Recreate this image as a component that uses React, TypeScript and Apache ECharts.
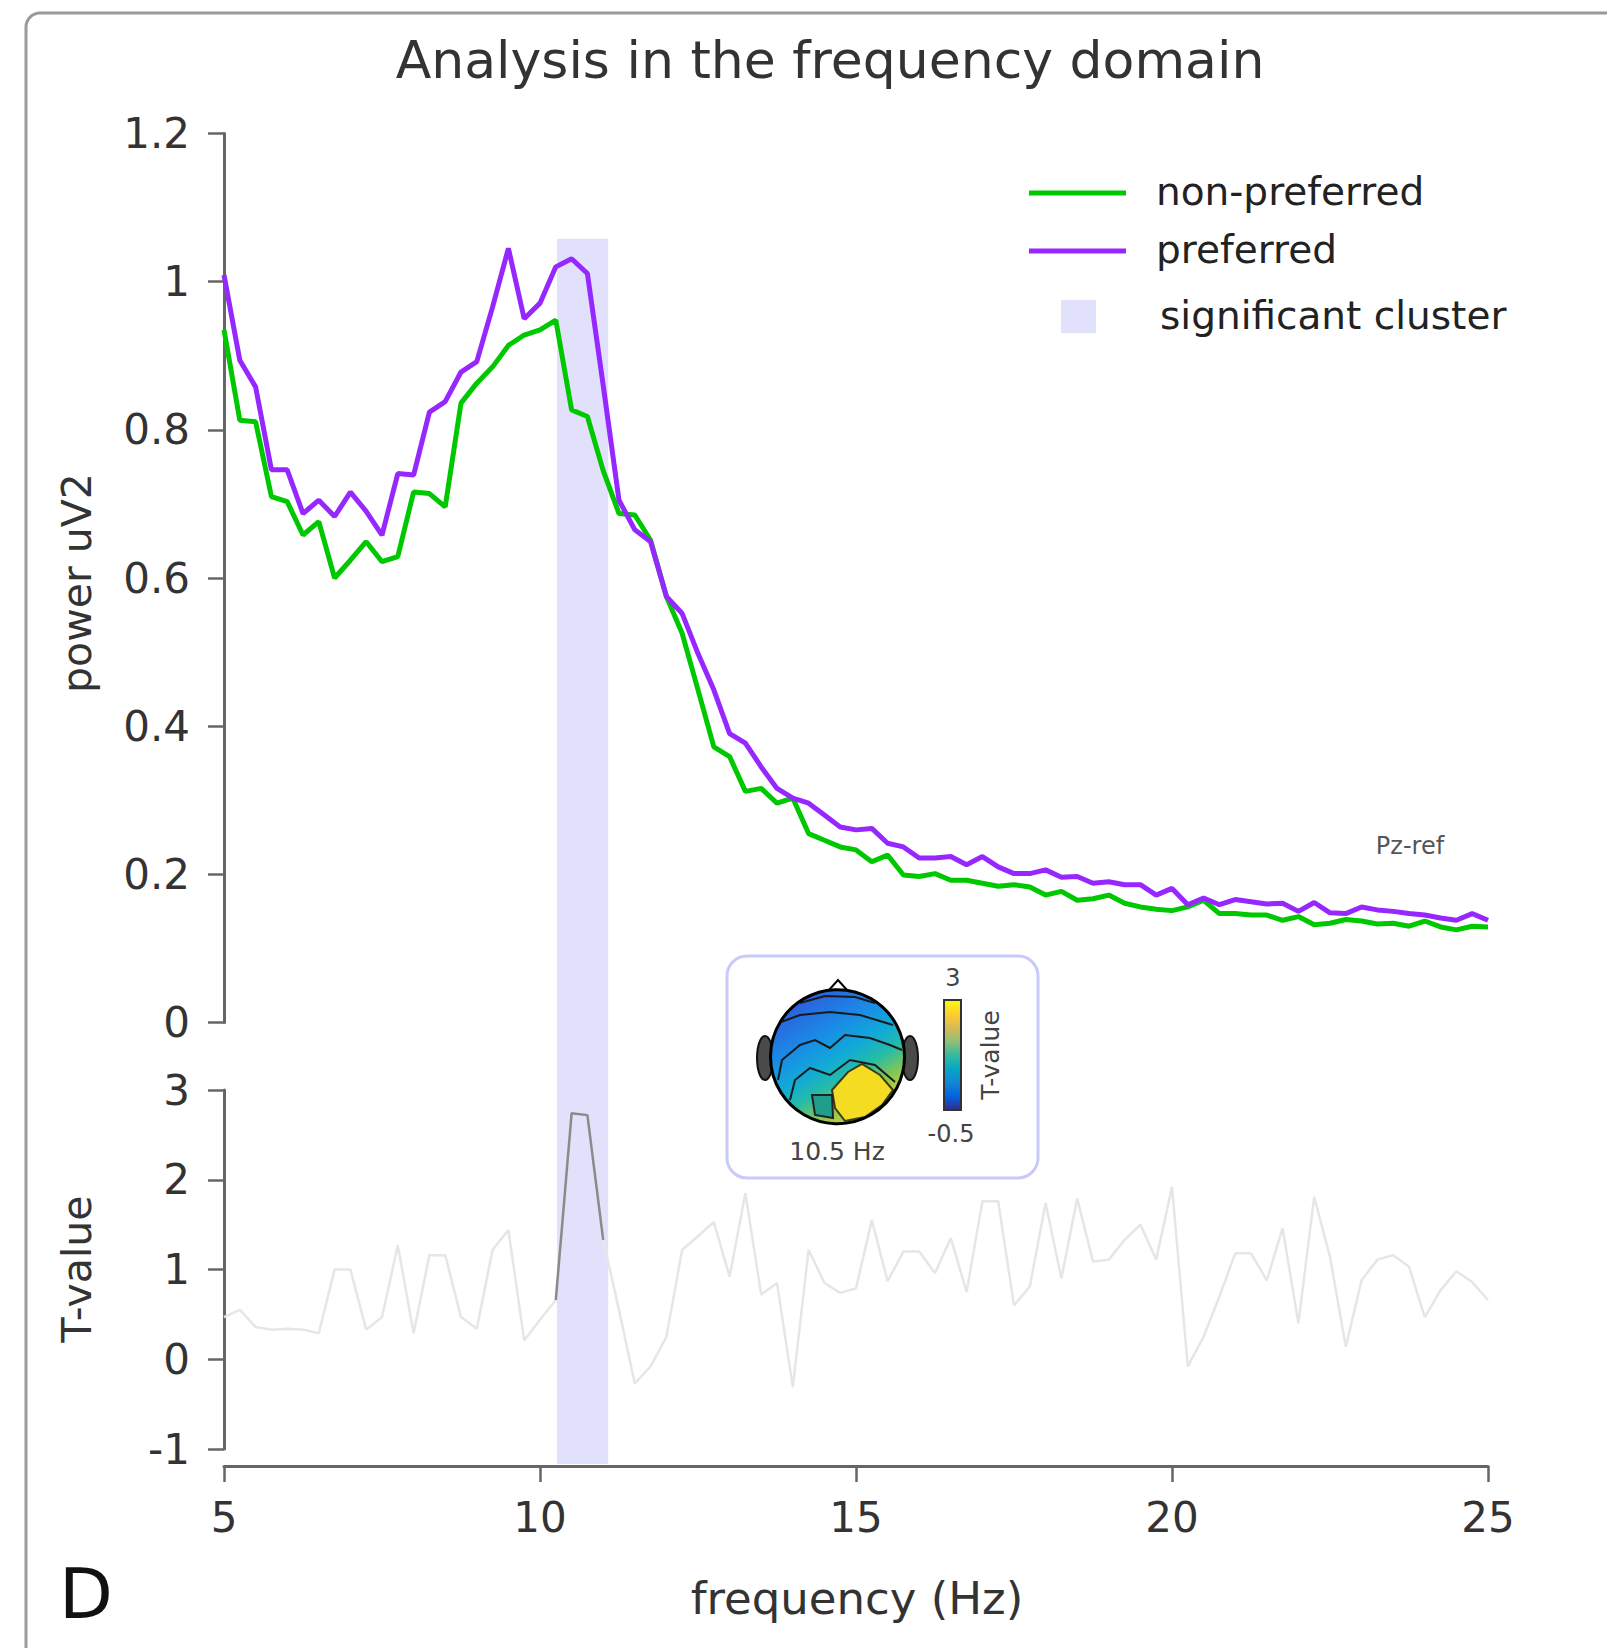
import React, { useEffect, useRef } from "react";
import * as echarts from "echarts";

// ---------- data ----------
const FREQ_START = 5;
const FREQ_STEP = 0.25;

const PREFERRED = [
  1.009, 0.894, 0.858, 0.746, 0.746, 0.687, 0.705, 0.683, 0.716, 0.69,
  0.658, 0.741, 0.739, 0.824, 0.838, 0.878, 0.892, 0.966, 1.045, 0.95,
  0.971, 1.02, 1.031, 1.011, 0.86, 0.705, 0.665, 0.649, 0.575, 0.552,
  0.498, 0.449, 0.39, 0.377, 0.345, 0.316, 0.303, 0.296, 0.28, 0.264,
  0.26, 0.262, 0.242, 0.237, 0.222, 0.222, 0.224, 0.213, 0.224, 0.21,
  0.201, 0.201, 0.206, 0.196, 0.197, 0.188, 0.19, 0.186, 0.186, 0.172,
  0.181, 0.159, 0.168, 0.159, 0.166, 0.163, 0.16, 0.161, 0.15, 0.162,
  0.148, 0.147, 0.156, 0.152, 0.15, 0.147, 0.145, 0.141, 0.138, 0.147,
  0.138,
];

const NON_PREFERRED = [
  0.935, 0.813, 0.811, 0.71, 0.703, 0.658, 0.676, 0.6, 0.624, 0.649,
  0.622, 0.629, 0.716, 0.714, 0.696, 0.836, 0.863, 0.885, 0.914, 0.928,
  0.935, 0.948, 0.827, 0.818, 0.745, 0.687, 0.685, 0.651, 0.575, 0.525,
  0.449, 0.372, 0.359, 0.312, 0.316, 0.296, 0.303, 0.255, 0.246, 0.237,
  0.233, 0.217, 0.226, 0.199, 0.197, 0.201, 0.192, 0.192, 0.188, 0.184,
  0.186, 0.183, 0.172, 0.177, 0.165, 0.167, 0.172, 0.161, 0.156, 0.153,
  0.151, 0.156, 0.165, 0.147, 0.147, 0.145, 0.145, 0.138, 0.143, 0.132,
  0.134, 0.139, 0.137, 0.133, 0.134, 0.13, 0.137, 0.129, 0.125, 0.13,
  0.129,
];

const T_VALUES = [
  0.47, 0.55, 0.36, 0.33, 0.34, 0.33, 0.29, 1.0, 1.0, 0.33,
  0.47, 1.27, 0.29, 1.16, 1.16, 0.47, 0.34, 1.22, 1.44, 0.21,
  0.44, 0.66, 2.74, 2.72, 1.33, 0.55, -0.27, -0.08, 0.25, 1.22,
  1.37, 1.53, 0.92, 1.85, 0.72, 0.85, -0.31, 1.22, 0.85, 0.74,
  0.79, 1.55, 0.87, 1.2, 1.2, 0.96, 1.35, 0.75, 1.76, 1.76,
  0.6, 0.81, 1.74, 0.9, 1.79, 1.09, 1.11, 1.33, 1.5, 1.11,
  1.92, -0.08, 0.25, 0.7, 1.18, 1.18, 0.88, 1.46, 0.4, 1.81,
  1.14, 0.14, 0.88, 1.11, 1.16, 1.03, 0.47, 0.77, 0.98, 0.86,
  0.66,
];

// significant cluster (Hz) and the dark part of the T-value curve
const CLUSTER = [10.27, 11.08];
const CLUSTER_TOP = 1.058;
const SIG_RANGE = [10.25, 11.0];

const POWER_AXIS = { min: 0, max: 1.2, interval: 0.2 };
const T_AXIS = { min: -1, max: 3, interval: 1 };
const FREQ_AXIS = { min: 5, max: 25, interval: 5 };

const COLORBAR_TICKS = ["3", "-0.5"];
const TOPO_FREQ = "10.5 Hz";

// ---------- styles ----------
const FONT = '"DejaVu Sans", "Liberation Sans", sans-serif';
const GREEN = "#00c800";
const PURPLE = "#9628ff";
const AXIS_COLOR = "#666666";
const LABEL_COLOR = "#333333";
const BAND_COLOR = "#e1e1fb";
const X_AXIS_OFFSET = 17;

const PARULA = [
  { offset: 0, color: "#f9fb0e" },
  { offset: 0.125, color: "#fcce2e" },
  { offset: 0.25, color: "#d9ba56" },
  { offset: 0.375, color: "#92bf73" },
  { offset: 0.5, color: "#38b99e" },
  { offset: 0.625, color: "#06a7c6" },
  { offset: 0.75, color: "#1485d4" },
  { offset: 0.875, color: "#0363e1" },
  { offset: 1, color: "#352a87" },
];

function pairs(values: number[]) {
  return values.map((v, i) => [FREQ_START + i * FREQ_STEP, v]);
}

function baseGraphics(): any[] {
  const txt = (id: string, x: number, y: number, text: string, size: number, extra: any = {}) => ({
    id,
    type: "text",
    x,
    y,
    rotation: extra.rotation || 0,
    z: 10,
    style: {
      text,
      fontSize: size,
      fontFamily: FONT,
      fill: extra.fill || LABEL_COLOR,
      align: extra.align || "left",
      verticalAlign: "middle",
      fontWeight: extra.weight || "normal",
    },
  });
  const head = { cx: 837.5, cy: 1056.7, r: 67 };
  const contour = (id: string, pts: number[][]) => ({
    id,
    type: "polyline",
    z: 12,
    shape: { points: pts },
    style: { stroke: "#1a1a1a", lineWidth: 2, fill: "none" },
  });
  return [
    {
      id: "frame",
      type: "rect",
      z: -5,
      shape: { x: 26, y: 13, width: 1700, height: 1700, r: 14 },
      style: { fill: "none", stroke: "#9a9a9a", lineWidth: 3 },
    },
    txt("title", 830, 60, "Analysis in the frequency domain", 52, { align: "center" }),
    txt("ylab1", 77, 583, "power uV2", 41, { align: "center", rotation: Math.PI / 2 }),
    txt("ylab2", 77, 1269, "T-value", 41, { align: "center", rotation: Math.PI / 2 }),
    txt("xlab", 857, 1598, "frequency (Hz)", 45, { align: "center" }),
    txt("panel", 86, 1594, "D", 70, { align: "center", fill: "#111" }),
    txt("pzref", 1410, 846, "Pz-ref", 24, { align: "center", fill: "#555" }),
    // legend
    { id: "lg1", type: "line", z: 10, shape: { x1: 1029, y1: 193, x2: 1126, y2: 193 }, style: { stroke: GREEN, lineWidth: 5 } },
    txt("lt1", 1156, 191, "non-preferred", 39, { fill: "#222" }),
    { id: "lg2", type: "line", z: 10, shape: { x1: 1029, y1: 251, x2: 1126, y2: 251 }, style: { stroke: PURPLE, lineWidth: 5 } },
    txt("lt2", 1156, 249, "preferred", 39, { fill: "#222" }),
    { id: "lg3", type: "rect", z: 10, shape: { x: 1061, y: 300, width: 35, height: 33 }, style: { fill: BAND_COLOR } },
    txt("lt3", 1160, 315, "significant cluster", 39, { fill: "#222" }),
    // topomap inset
    {
      id: "inset",
      type: "rect",
      z: 9,
      shape: { x: 727, y: 956, width: 311, height: 222, r: 20 },
      style: { fill: "#ffffff", stroke: "#c9c9fb", lineWidth: 3 },
    },
    { id: "earL", type: "ellipse", z: 10, shape: { cx: 765, cy: 1058, rx: 8, ry: 22 }, style: { fill: "#4a4a4a", stroke: "#111", lineWidth: 2 } },
    { id: "earR", type: "ellipse", z: 10, shape: { cx: 910, cy: 1058, rx: 8, ry: 22 }, style: { fill: "#4a4a4a", stroke: "#111", lineWidth: 2 } },
    {
      id: "headFill",
      type: "circle",
      z: 11,
      shape: head,
      style: {
        fill: {
          type: "linear",
          x: 0.15,
          y: 0,
          x2: 0.75,
          y2: 1,
          colorStops: [
            { offset: 0, color: "#3446c4" },
            { offset: 0.12, color: "#2a64de" },
            { offset: 0.35, color: "#1a8ce6" },
            { offset: 0.52, color: "#10aad8" },
            { offset: 0.66, color: "#26bca6" },
            { offset: 0.8, color: "#86c652" },
            { offset: 1, color: "#f0d825" },
          ],
        },
      },
    },
    {
      id: "yellow",
      type: "polygon",
      z: 12,
      shape: { points: [[832, 1090], [848, 1072], [862, 1064], [880, 1075], [893, 1090], [882, 1105], [865, 1117], [845, 1121], [835, 1108]] },
      style: { fill: "#f4dc22", stroke: "#3a3a1a", lineWidth: 2 },
    },
    {
      id: "teal",
      type: "polygon",
      z: 12,
      shape: { points: [[812, 1095], [832, 1095], [833, 1118], [815, 1115]] },
      style: { fill: "#1f9e8e", stroke: "#222", lineWidth: 2 },
    },
    contour("c1", [[800, 1003], [825, 996], [855, 997], [875, 1003]]),
    contour("c2", [[781, 1022], [800, 1015], [830, 1012], [860, 1015], [893, 1025]]),
    contour("c3", [[778, 1080], [782, 1060], [800, 1045], [815, 1040], [830, 1048], [845, 1035], [870, 1038], [890, 1045], [902, 1050]]),
    contour("c4", [[790, 1100], [795, 1080], [810, 1068], [830, 1075], [850, 1060], [875, 1065], [895, 1082]]),
    {
      id: "headLine",
      type: "circle",
      z: 13,
      shape: head,
      style: { fill: "none", stroke: "#000", lineWidth: 3 },
    },
    {
      id: "nose",
      type: "polyline",
      z: 13,
      shape: { points: [[829, 990], [838, 980], [847, 990]] },
      style: { fill: "none", stroke: "#000", lineWidth: 2 },
    },
    {
      id: "cbar",
      type: "rect",
      z: 11,
      shape: { x: 944, y: 1000, width: 17, height: 110 },
      style: {
        fill: { type: "linear", x: 0, y: 0, x2: 0, y2: 1, colorStops: PARULA },
        stroke: "#333",
        lineWidth: 2,
      },
    },
    txt("cb1", 953, 978, COLORBAR_TICKS[0], 24, { align: "center", fill: "#444" }),
    txt("cb2", 951, 1134, COLORBAR_TICKS[1], 24, { align: "center", fill: "#444" }),
    txt("cbl", 990, 1055, "T-value", 25, { align: "center", fill: "#444", rotation: Math.PI / 2 }),
    txt("tf", 837, 1151, TOPO_FREQ, 25, { align: "center", fill: "#444" }),
  ];
}

const axisLine = { show: true, onZero: false, lineStyle: { color: AXIS_COLOR, width: 3 } };
const axisTick = { show: true, inside: false, length: 16, lineStyle: { color: AXIS_COLOR, width: 2.5 } };
const axisLabel = (margin: number) => ({ fontSize: 42, fontFamily: FONT, color: LABEL_COLOR, margin });

function buildOption(): any {
  const tAll = pairs(T_VALUES);
  const tSig = tAll.filter((p) => p[0] >= SIG_RANGE[0] - 1e-9 && p[0] <= SIG_RANGE[1] + 1e-9);
  return {
    animation: false,
    backgroundColor: "#ffffff",
    grid: [
      { left: 224, top: 133.5, width: 1264, height: 889 },
      { left: 224, top: 1090, width: 1264, height: 359 },
    ],
    xAxis: [
      { gridIndex: 0, type: "value", ...FREQ_AXIS, show: false },
      {
        gridIndex: 1,
        type: "value",
        ...FREQ_AXIS,
        position: "bottom",
        offset: X_AXIS_OFFSET,
        axisLine,
        axisTick,
        axisLabel: axisLabel(30),
        splitLine: { show: false },
      },
    ],
    yAxis: [
      {
        gridIndex: 0,
        type: "value",
        ...POWER_AXIS,
        axisLine,
        axisTick,
        axisLabel: axisLabel(34),
        splitLine: { show: false },
      },
      {
        gridIndex: 1,
        type: "value",
        ...T_AXIS,
        axisLine,
        axisTick,
        axisLabel: axisLabel(34),
        splitLine: { show: false },
      },
    ],
    series: [
      {
        name: "non-preferred",
        type: "line",
        xAxisIndex: 0,
        yAxisIndex: 0,
        data: pairs(NON_PREFERRED),
        symbol: "none",
        lineStyle: { color: GREEN, width: 5 },
        z: 3,
      },
      {
        name: "preferred",
        type: "line",
        xAxisIndex: 0,
        yAxisIndex: 0,
        data: pairs(PREFERRED),
        symbol: "none",
        lineStyle: { color: PURPLE, width: 5 },
        z: 4,
      },
      {
        name: "T-value",
        type: "line",
        xAxisIndex: 1,
        yAxisIndex: 1,
        data: tAll,
        symbol: "none",
        lineStyle: { color: "#e6e6e6", width: 2.5 },
        z: 3,
      },
      {
        name: "T-value significant",
        type: "line",
        xAxisIndex: 1,
        yAxisIndex: 1,
        data: tSig,
        symbol: "none",
        lineStyle: { color: "#8a8a8a", width: 2.5 },
        z: 4,
      },
    ],
    graphic: baseGraphics(),
  };
}

export default function App() {
  const ref = useRef<HTMLDivElement>(null);
  useEffect(() => {
    if (!ref.current) return;
    const chart = echarts.init(ref.current, null, { renderer: "svg" });
    chart.setOption(buildOption());
    const pTop = chart.convertToPixel({ gridIndex: 0 }, [CLUSTER[0], CLUSTER_TOP]) as number[];
    const pRight = chart.convertToPixel({ gridIndex: 0 }, [CLUSTER[1], 0]) as number[];
    const pBottom = chart.convertToPixel({ gridIndex: 1 }, [CLUSTER[1], T_AXIS.min]) as number[];
    const bottomY = pBottom[1] + X_AXIS_OFFSET - 2;
    chart.setOption({
      graphic: [
        {
          id: "band",
          type: "rect",
          z: 1,
          shape: { x: pTop[0], y: pTop[1], width: pRight[0] - pTop[0], height: bottomY - pTop[1] },
          style: { fill: BAND_COLOR },
        },
      ],
    });
    return () => chart.dispose();
  }, []);
  return (
    <div
      ref={ref}
      style={{ position: "absolute", left: 0, top: 0, width: 1607, height: 1648 }}
    />
  );
}
